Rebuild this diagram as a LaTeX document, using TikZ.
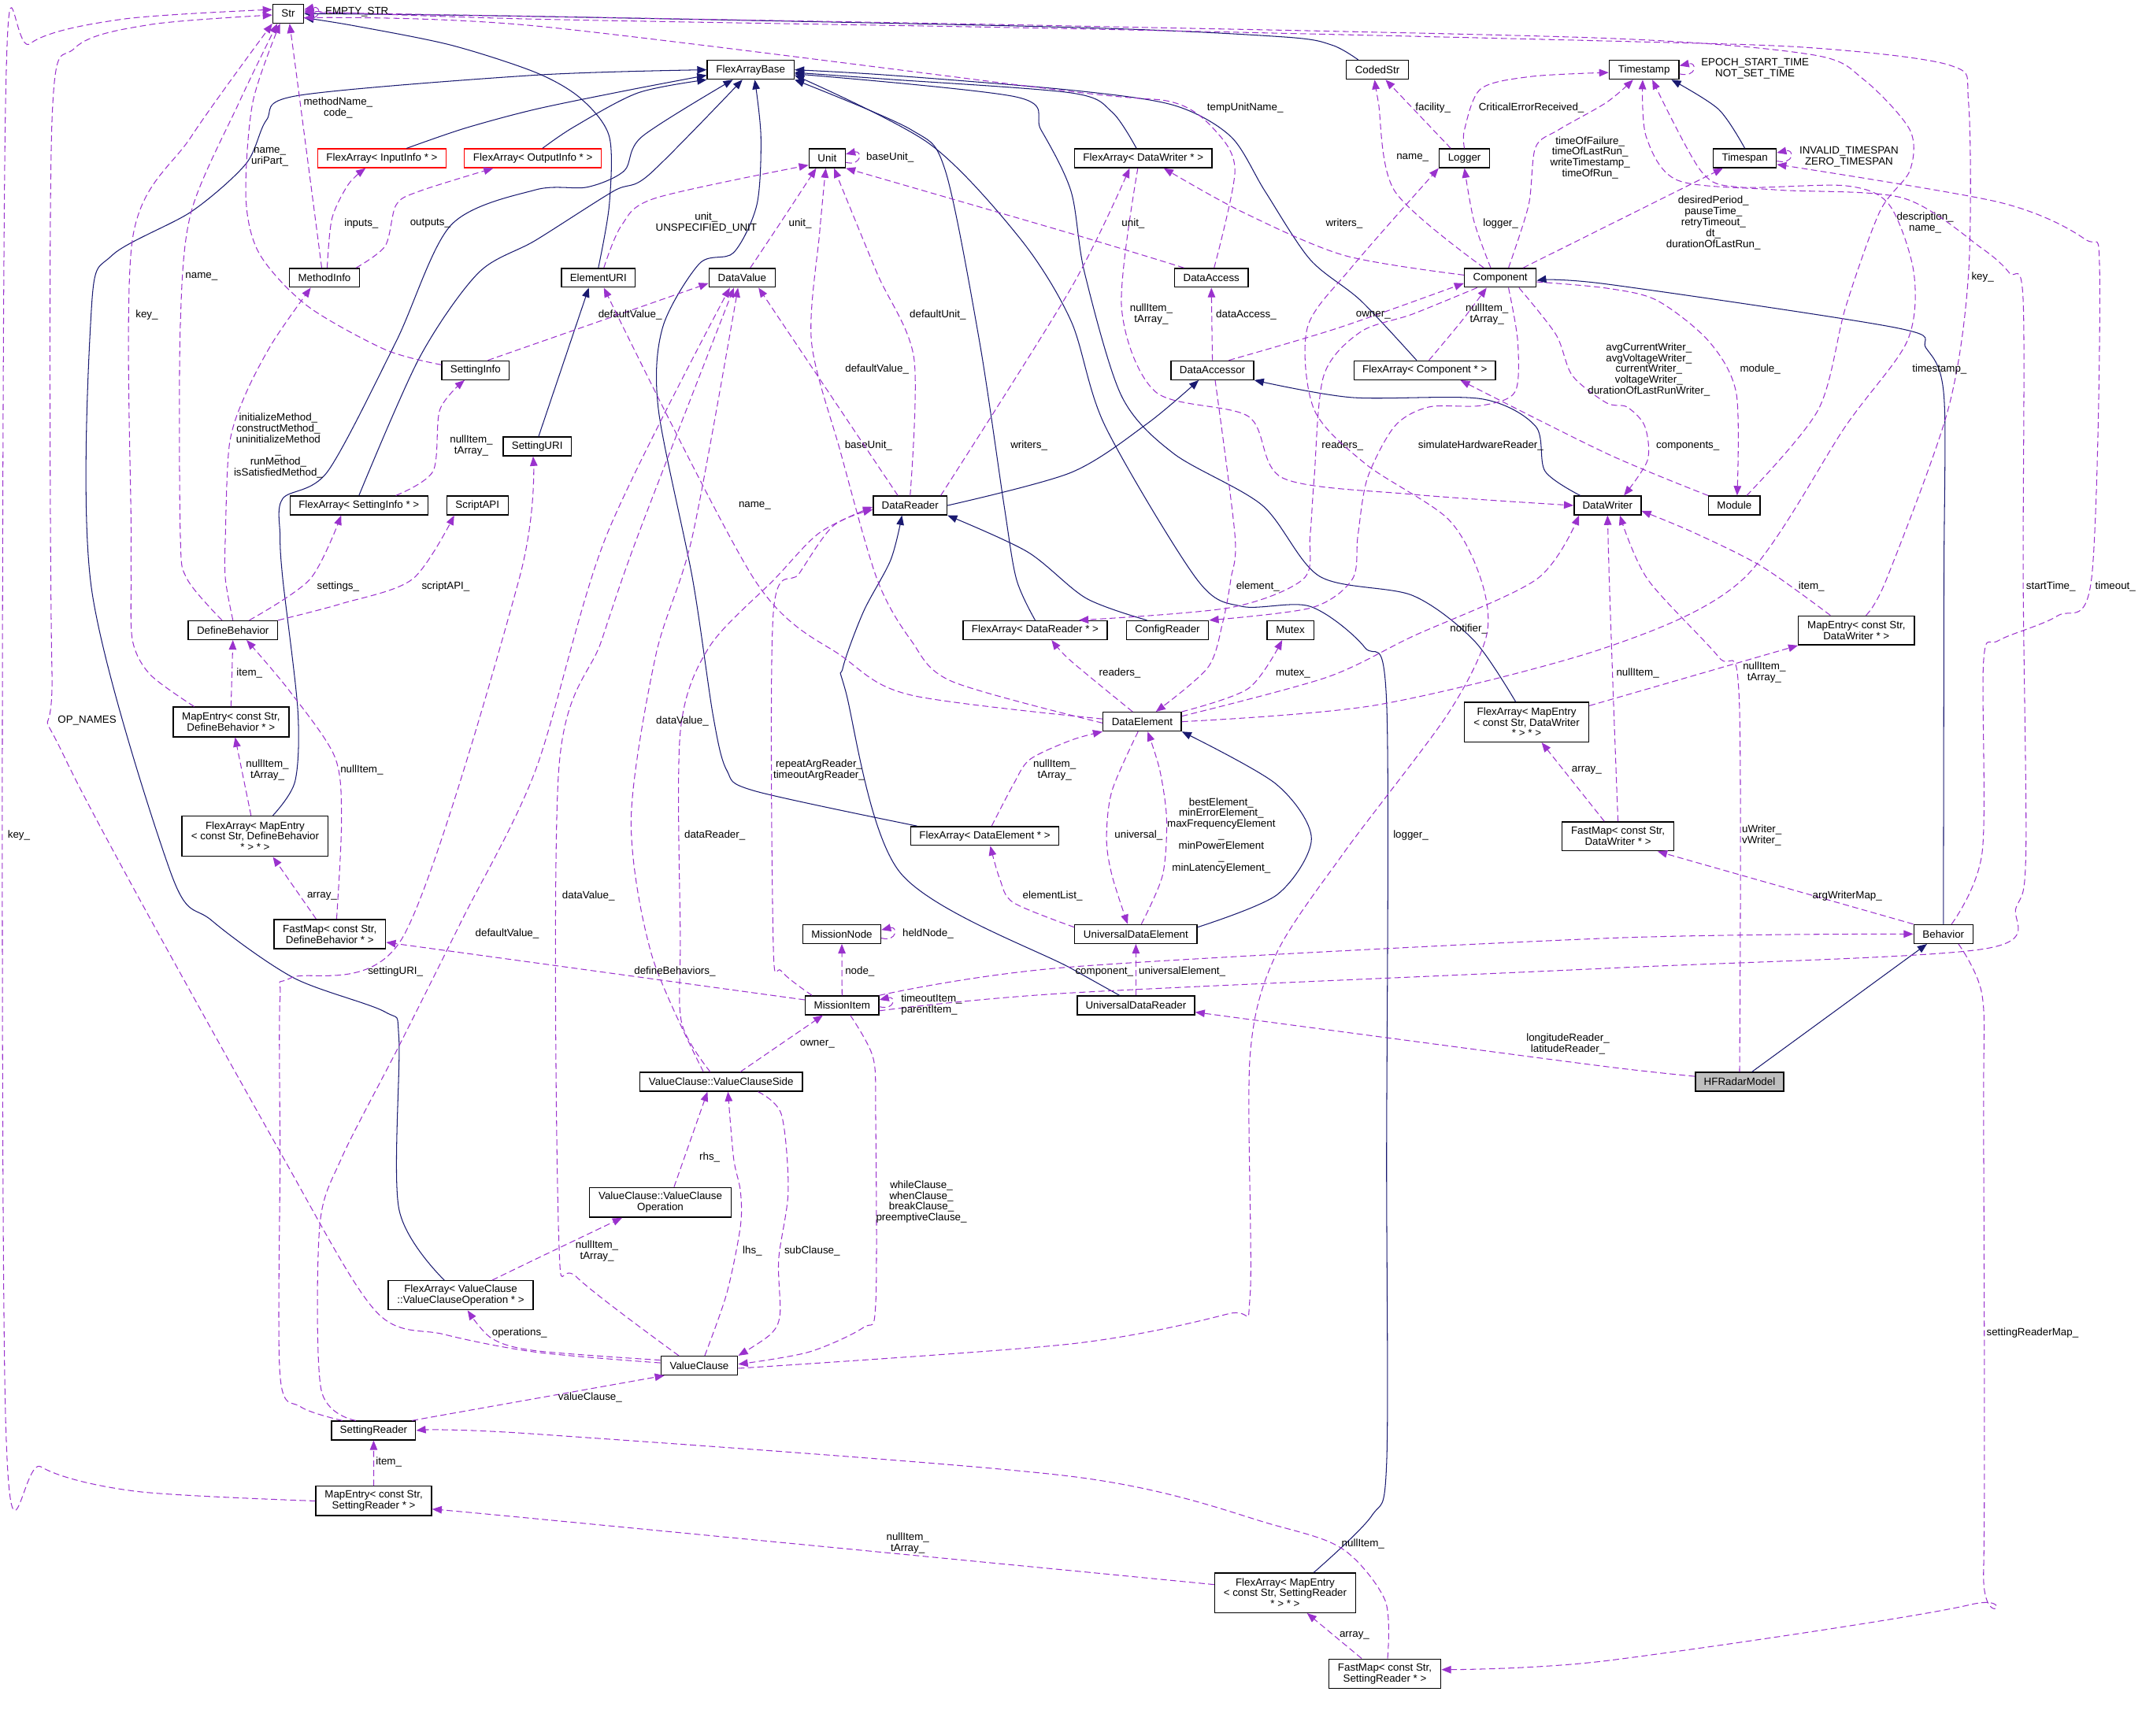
\documentclass[tikz,border=0pt]{standalone}
\usepackage{fontspec}
\setmainfont{Liberation Sans}
\usepackage{tikz}
\usepackage{xcolor}
\usetikzlibrary{arrows.meta}
\definecolor{navy}{HTML}{191970}
\definecolor{orchid}{HTML}{9A32CD}
\definecolor{ink}{HTML}{000000}
\definecolor{boxred}{HTML}{FF0000}
\definecolor{current}{HTML}{BFBFBF}
\newcommand{\dxfont}{\fontsize{7.7}{8}\selectfont}
\tikzset{
  cls/.style={draw=ink, fill=white, line width=0.8pt, align=center, inner xsep=1pt,
              inner ysep=0pt, minimum height=13.75pt, font=\dxfont},
  tmpl/.style={cls, draw=boxred},
  focus/.style={cls, fill=current},
  inherit/.style={draw=navy, line width=0.6pt, -{Triangle[length=7pt,width=5.5pt]}},
  member/.style={draw=orchid, line width=0.6pt, dash pattern=on 4.5pt off 2.5pt,
                 -{Triangle[length=7pt,width=5.5pt]}},
  role/.style={font=\dxfont, align=center, inner sep=0pt}
}
\begin{document}
\begin{tikzpicture}[x=1pt,y=-1pt,font=\dxfont]
    \useasboundingbox (0,0) rectangle (1568,1271);
    % classes, top to bottom
    \node[cls,minimum width=22.5pt] (str) at (211,10) {Str};
    \node[cls,minimum width=63.5pt] (fab) at (549.5,51.1) {FlexArrayBase};
    \node[cls,minimum width=45.5pt] (coded) at (1008.25,51.1) {CodedStr};
    \node[cls,minimum width=51pt] (tstamp) at (1203.5,51.1) {Timestamp};
    \node[tmpl,minimum width=94.25pt] (fain) at (279.6,115.9) {FlexArray< InputInfo * >};
    \node[tmpl,minimum width=100.25pt] (faout) at (390.1,115.9) {FlexArray< OutputInfo * >};
    \node[cls,minimum width=26.5pt] (unit) at (605.5,115.9) {Unit};
    \node[cls,minimum width=100.75pt] (fadw) at (836.9,115.9) {FlexArray< DataWriter * >};
    \node[cls,minimum width=37pt] (logger) at (1072,115.9) {Logger};
    \node[cls,minimum width=46pt] (tspan) at (1277.25,115.9) {Timespan};
    \node[cls,minimum width=51.5pt] (minfo) at (237.5,203.4) {MethodInfo};
    \node[cls,minimum width=54pt] (euri) at (438,203.4) {ElementURI};
    \node[cls,minimum width=48.5pt] (dval) at (543.25,203.4) {DataValue};
    \node[cls,minimum width=54pt] (dacc) at (886.75,203.4) {DataAccess};
    \node[cls,minimum width=52.5pt] (comp) at (1098.25,203.4) {Component};
    \node[cls,minimum width=49.25pt] (sinfo) at (348.1,271.1) {SettingInfo};
    \node[cls,minimum width=60.5pt] (daccr) at (887.5,271.1) {DataAccessor};
    \node[cls,minimum width=103.5pt] (facomp) at (1043,271.1) {FlexArray< Component * >};
    \node[cls,minimum width=50pt] (suri) at (393.25,326.9) {SettingURI};
    \node[cls,minimum width=101pt] (fasinfo) at (262.75,370.1) {FlexArray< SettingInfo * >};
    \node[cls,minimum width=45pt] (sapi) at (349.5,370.1) {ScriptAPI};
    \node[cls,minimum width=54pt] (dreader) at (666.25,370.1) {DataReader};
    \node[cls,minimum width=49pt] (dwriter) at (1176.75,370.1) {DataWriter};
    \node[cls,minimum width=37.75pt] (module) at (1269.6,370.1) {Module};
    \node[cls,minimum width=65.5pt] (defbeh) at (170.5,461.4) {DefineBehavior};
    \node[cls,minimum width=105.5pt] (fadr) at (757.75,461.4) {FlexArray< DataReader * >};
    \node[cls,minimum width=60.25pt] (cfgr) at (854.6,461.4) {ConfigReader};
    \node[cls,minimum width=34.25pt] (mutex) at (944.6,461.4) {Mutex};
    \node[cls,minimum width=84.75pt,minimum height=21.25pt] (medw) at (1358.9,461.6) {MapEntry< const Str,\\ DataWriter * >};
    \node[cls,minimum width=84.75pt,minimum height=21.75pt] (medb) at (169.1,528.6) {MapEntry< const Str,\\ DefineBehavior * >};
    \node[cls,minimum width=57.25pt] (delem) at (836.1,528.4) {DataElement};
    \node[cls,minimum width=91pt,minimum height=29pt] (famedw) at (1117.5,528.75) {FlexArray< MapEntry\\< const Str, DataWriter\\ * > * >};
    \node[cls,minimum width=107pt,minimum height=29.5pt] (famedb) at (186.75,612.25) {FlexArray< MapEntry\\< const Str, DefineBehavior\\ * > * >};
    \node[cls,minimum width=108.25pt] (fadelem) at (720.9,612.1) {FlexArray< DataElement * >};
    \node[cls,minimum width=81.75pt,minimum height=21.25pt] (fmdw) at (1184.4,612.4) {FastMap< const Str,\\ DataWriter * >};
    \node[cls,minimum width=81.75pt,minimum height=21.5pt] (fmdb) at (241.4,684) {FastMap< const Str,\\ DefineBehavior * >};
    \node[cls,minimum width=57pt] (mnode) at (616.25,683.9) {MissionNode};
    \node[cls,minimum width=89.5pt] (udelem) at (831.5,683.9) {UniversalDataElement};
    \node[cls,minimum width=43.25pt] (behav) at (1422.6,683.9) {Behavior};
    \node[cls,minimum width=53.75pt] (mitem) at (616.4,736.1) {MissionItem};
    \node[cls,minimum width=86pt] (udreader) at (831.5,736.1) {UniversalDataReader};
    \node[cls,minimum width=119.25pt] (vcside) at (527.9,792.1) {ValueClause::ValueClauseSide};
    \node[focus,minimum width=64.75pt] (hfradar) at (1273.4,792.1) {HFRadarModel};
    \node[cls,minimum width=103.75pt,minimum height=21.75pt] (vcop) at (483.4,880.4) {ValueClause::ValueClause\\Operation};
    \node[cls,minimum width=106pt,minimum height=21.25pt] (favcop) at (337.25,948.4) {FlexArray< ValueClause\\::ValueClauseOperation * >};
    \node[cls,minimum width=56.25pt] (vclause) at (511.9,999.9) {ValueClause};
    \node[cls,minimum width=61.5pt] (sreader) at (273.5,1047.4) {SettingReader};
    \node[cls,minimum width=84.75pt,minimum height=21.5pt] (mesr) at (273.6,1099) {MapEntry< const Str,\\ SettingReader * >};
    \node[cls,minimum width=103pt,minimum height=29pt] (famesr) at (940.75,1166.25) {FlexArray< MapEntry\\< const Str, SettingReader\\ * > * >};
    \node[cls,minimum width=82pt,minimum height=21.5pt] (fmsr) at (1013.75,1225.5) {FastMap< const Str,\\ SettingReader * >};

    % inheritance
    \draw[inherit] plot[smooth] coordinates {(euri.north) (446,150) (446,100) (425,72) (392,53) (330,33) (260,19) ([yshift=-3pt]str.east)};
    \draw[inherit] plot[smooth] coordinates {([xshift=-14pt]coded.north) (975,33) (939,27) (784,20) (392,12) (str.east)};
    \draw[inherit] plot[smooth] coordinates {([xshift=18pt]fain.north) (340,94) (392,80) (460,66) ([yshift=-4pt]fab.west)};
    \draw[inherit] plot[smooth] coordinates {([xshift=7pt]faout.north) (420,93) (467,68) (fab.south west)};
    \draw[inherit] plot[smooth] coordinates {([xshift=13pt]famedb.north) (216,572) (218,520) (207,424) (205,392) (207,365) (240,345) (290,250) (330,165) (392,139) (430,137) (457,125) (470,100) ([xshift=-13pt]fab.south)};
    \draw[inherit] plot[smooth] coordinates {(fasinfo.north) (307,262) (350,200) (392,176) (449,140) (475,128) ([xshift=-6pt]fab.south)};
    \draw[inherit] plot[smooth] coordinates {([xshift=-12pt]favcop.north) (292,885) (292,760) (282,741) (215,716) (155,674) (125,639) (67,431) (67,225) (82,187) (140,155) (180,120) (195,88) (218,70) (392,55) (fab.west)};
    \draw[inherit] plot[smooth] coordinates {([xshift=5pt]fadelem.north west) (552,579) (532,564) (522,524) (507,424) (482,300) (485,240) (512,193) (537,185) (554,150) (557,100) ([xshift=3pt]fab.south)};
    \draw[inherit] plot[smooth] coordinates {([xshift=-5pt]fadw.north) (814,82) (784,68) (650,58) ([yshift=-2pt]fab.east)};
    \draw[inherit] plot[smooth] coordinates {([xshift=-6pt]facomp.north) (996,220) (959,190) (926,140) (901,100) (859,77) (784,66) (650,55) (fab.east)};
    \draw[inherit] plot[smooth] coordinates {([xshift=-8pt]famedw.north) (1079,469) (1034,436) (966,422) (924,370) (859,332) (821,290) (794,200) (784,140) (762,95) (744,71) ([yshift=-3pt]fab.east)};
    \draw[inherit] plot[smooth] coordinates {([xshift=21pt]famesr.north) (1004,1110) (1015,1072) (1015,850) (1015,514) (999,474) (959,444) (909,444) (876,424) (809,312) (784,235) (747,175) (680,105) ([yshift=-4pt]fab.east)};
    \draw[inherit] plot[smooth] coordinates {(fadr.north) (744,424) (735,370) (717,250) (692,125) (667,95) (fab.south east)};
    \draw[inherit] plot[smooth] coordinates {(tspan.north) (1258,80) ([xshift=20pt]tstamp.south)};
    \draw[inherit] ([xshift=1pt]suri.north) -- ([xshift=-7pt]euri.south);
    \draw[inherit] plot[smooth] coordinates {(dreader.east) (784,346) (840,310) ([xshift=-10pt]daccr.south)};
    \draw[inherit] plot[smooth] coordinates {([xshift=-20pt]dwriter.north) (1131,345) (1124,312) (1084,292) (989,291) (daccr.south east)};
    \draw[inherit] plot[smooth] coordinates {([xshift=-15pt]cfgr.north) (795,438) (752,404) (dreader.south east)};
    \draw[inherit] plot[smooth] coordinates {([xshift=-12pt]udreader.north) (784,709) (659,639) (619,506) (617,489) (632,448) (652,410) ([xshift=-6pt]dreader.south)};
    \draw[inherit] plot[smooth] coordinates {([yshift=5pt]udelem.east) (935,655) (960,614) (934,574) (delem.south east)};
    \draw[inherit] plot[smooth] coordinates {(behav.north) (1423,424) (1423,290) (1410,255) (1388,240) (1176,208) ([yshift=-2pt]comp.east)};
    \draw[inherit] ([xshift=9pt]hfradar.north) -- ([xshift=-12pt]behav.south);

    % members pointing at Str
    \draw[member] ([yshift=-3pt]str.east) .. controls +(13,3) and +(13,-3) .. ([yshift=3pt]str.east);
    \draw[member] plot[smooth] coordinates {([xshift=-2pt]minfo.north) (218,62) ([xshift=1pt]str.south)};
    \draw[member] plot[smooth] coordinates {([yshift=4pt]sinfo.west) (282,256) (225,224) (190,186) (180,145) (185,75) ([xshift=-6pt]str.south)};
    \draw[member] plot[smooth] coordinates {([xshift=-8pt]defbeh.north) (137,424) (132,392) (132,238) (140,155) (175,75) ([xshift=-8pt]str.south)};
    \draw[member] plot[smooth] coordinates {([xshift=-27pt]medb.north) (110,494) (97,469) (96,424) (96,392) (97,175) (140,100) (str.south west)};
    \draw[member] plot[smooth] coordinates {([yshift=2pt]vclause.west) (392,990) (325,977) (275,960) (207,847) (48,556) (38,490) (38,90) (55,35) (110,18) ([yshift=-1pt]str.west)};
    \draw[member] plot[smooth] coordinates {(mesr.west) (100,1092) (30,1074) (4,1035) (4,80) (22,32) (90,14) ([yshift=3pt]str.west)};
    \draw[member] plot[smooth] coordinates {([xshift=2pt]dacc.north) (904,125) (889,95) (859,75) (784,67) (392,19) ([yshift=-3pt]str.east)};
    \draw[member] plot[smooth] coordinates {([xshift=9pt]module.north) (1331,300) (1351,225) (1376,155) (1398,125) (1398,95) (1364,58) (1326,40) (1176,28) (784,19) (392,12) ([yshift=1pt]str.east)};
    \draw[member] plot[smooth] coordinates {([xshift=7pt]medw.north) (1381,424) (1426,300) (1441,200) (1441,75) (1428,48) (1326,35) (1176,30) (784,21) (392,14) ([yshift=2pt]str.east)};
    \node[role,anchor=west] (l01) at (238,9) {EMPTY\_STR};
    \node[role] (l02) at (247.5,79) {methodName\_\\code\_};
    \node[role] (l03) at (197.5,115) {name\_\\uriPart\_};
    \node[role] (l06) at (147.5,202.5) {name\_};
    \node[role] (l07) at (107.5,230.5) {key\_};
    \node[role] (l13) at (63.75,527.75) {OP\_NAMES};
    \node[role,anchor=west] (l16) at (5.5,611.75) {key\_};
    \node[role] (l31) at (911.5,79) {tempUnitName\_};
    \node[role] (l48) at (1409.25,163) {description\_\\name\_};
    \node[role,anchor=west] (l49) at (1443,203) {key\_};

    % MethodInfo, SettingInfo, DefineBehavior
    \draw[member] plot[smooth] coordinates {([xshift=2pt]minfo.north) (243,160) (255,135) ([xshift=-12pt]fain.south)};
    \draw[member] plot[smooth] coordinates {([xshift=-3pt]minfo.north east) (282,180) (290,150) (307,140) ([xshift=-29pt]faout.south)};
    \draw[member] plot[smooth] coordinates {(defbeh.north) (165,424) (165,392) (168,325) (180,288) (200,250) ([xshift=-10pt]minfo.south)};
    \draw[member] plot[smooth] coordinates {([xshift=27pt]fasinfo.north) (317,345) (322,300) ([xshift=-8pt]sinfo.south)};
    \draw[member] ([xshift=9pt]sinfo.north) -- ([yshift=-4pt]dval.west);
    \draw[member] plot[smooth] coordinates {([xshift=12pt]defbeh.north) (227,424) ([xshift=-13pt]fasinfo.south)};
    \draw[member] plot[smooth] coordinates {(defbeh.north east) (250,442) (302,424) ([xshift=-17pt]sapi.south)};
    \draw[member] (medb.north) -- (defbeh.south);
    \draw[member] ([xshift=-3pt]famedb.north) -- ([xshift=3pt]medb.south);
    \draw[member] plot[smooth] coordinates {([xshift=5pt]fmdb.north) (250,600) (245,554) (212,506) ([xshift=10pt]defbeh.south)};
    \draw[member] ([xshift=-10pt]fmdb.north) -- ([xshift=13pt]famedb.south);
    \node[role] (l04) at (264.5,163.5) {inputs\_};
    \node[role] (l05) at (315,163.5) {outputs\_};
    \node[role] (l08) at (203.75,326.25) {initializeMethod\_\\constructMethod\_\\uninitializeMethod\\\_\\runMethod\_\\isSatisfiedMethod\_};
    \node[role] (l09) at (345,326.25) {nullItem\_\\tArray\_};
    \node[role] (l25) at (461.25,230.5) {defaultValue\_};
    \node[role] (l10) at (247.5,429.25) {settings\_};
    \node[role] (l11) at (326.25,429.25) {scriptAPI\_};
    \node[role,anchor=west] (l12) at (173,493) {item\_};
    \node[role] (l14) at (195.75,563.75) {nullItem\_\\tArray\_};
    \node[role,anchor=west] (l15) at (249,563.75) {nullItem\_};
    \node[role] (l17) at (235.75,656.25) {array\_};

    % SettingReader
    \draw[member] plot[smooth] coordinates {([xshift=-13pt]sreader.north) (235,1017) (234,898) (250,848) (292,766) (338,674) (392,564) (444,392) ([xshift=-9pt]dval.south)};
    \draw[member] plot[smooth] coordinates {([xshift=-23pt]sreader.north) (220,1030) (205,1007) (205,848) (205,731) (213,716) (295,686) (380,424) ([xshift=-3pt]suri.south)};
    \draw[member] ([xshift=-3pt]sreader.north east) -- ([xshift=3pt]vclause.south west);
    \draw[member] (mesr.north) -- (sreader.south);
    \draw[member] plot[smooth] coordinates {([yshift=6pt]famesr.west) (784,1150) (392,1112) ([yshift=-6pt]mesr.east)};
    \draw[member] plot[smooth] coordinates {([xshift=2pt]fmsr.north) (1014,1172) (984,1135) (934,1117) (784,1081) (392,1050) (sreader.east)};
    \draw[member] ([xshift=-17pt]fmsr.north) -- ([xshift=16pt]famesr.south);
    \draw[member] plot[smooth] coordinates {([xshift=11pt]behav.south) (1451,729) (1452,816) (1452,1150) (1442,1175) (1176,1216) ([yshift=3pt]fmsr.east)};
    \node[role] (l18) at (371.25,683.75) {defaultValue\_};
    \node[role] (l19) at (289.5,711.5) {settingURI\_};
    \node[role] (l89) at (432,1023.25) {valueClause\_};
    \node[role,anchor=west] (l21) at (275,1070.5) {item\_};
    \node[role] (l90) at (664.5,1130) {nullItem\_\\tArray\_};
    \node[role] (l91) at (997.75,1130.5) {nullItem\_};
    \node[role] (l92) at (991.5,1197.5) {array\_};
    \node[role,anchor=west] (l83) at (1454,976) {settingReaderMap\_};

    % Timestamp, Timespan, Component
    \draw[member] plot[smooth] coordinates {([xshift=6pt]behav.north) (1451,624) (1452,484) (1463,469) (1506,451) (1531,424) (1537,200) (1526,175) (1463,148) ([yshift=-4.5pt]tspan.east)};
    \draw[member] ([yshift=-2pt]tspan.east) .. controls +(13,3) and +(13,-3) .. ([yshift=4pt]tspan.east);
    \draw[member] ([yshift=-3pt]tstamp.east) .. controls +(13,3) and +(13,-3) .. ([yshift=3pt]tstamp.east);
    \draw[member] plot[smooth] coordinates {([yshift=-4pt]mitem.east) (784,727) (1176,709) (1451,695) (1476,664) (1483,624) (1481,424) (1481,220) (1471,200) (1451,182) (1393,145) (1300,139) (1228,132) (1205,100) ([xshift=-1pt]tstamp.south)};
    \draw[member] plot[smooth] coordinates {(delem.east) (1009,516) (1176,474) (1276,424) (1351,312) (1396,250) (1401,200) (1383,150) (1351,136) (1273,137) (1245,125) ([xshift=6pt]tstamp.south)};
    \draw[member] plot[smooth] coordinates {([xshift=6pt]comp.north) (1119,150) (1124,108) (1141,95) (1176,75) ([xshift=-8pt]tstamp.south)};
    \draw[member] plot[smooth] coordinates {(logger.north) (1072,95) (1084,65) (1121,56) ([yshift=-2pt]tstamp.west)};
    \draw[member] ([xshift=-10pt]logger.north) -- ([xshift=6pt]coded.south);
    \draw[member] plot[smooth] coordinates {([xshift=-12pt]comp.north) (1021,140) (1009,75) ([xshift=-2pt]coded.south)};
    \draw[member] plot[smooth] coordinates {([xshift=-7pt]comp.north) (1079,162) (logger.south)};
    \draw[member] plot[smooth] coordinates {([yshift=2pt]comp.west) (984,187) (909,155) ([xshift=15pt]fadw.south)};
    \draw[member] ([xshift=-10pt]comp.north east) -- ([xshift=-16pt]tspan.south);
    \draw[member] plot[smooth] coordinates {([yshift=-3pt]comp.east) (1176,211) (1213,220) (1251,250) (1271,288) ([xshift=2pt]module.north)};
    \draw[member] plot[smooth] coordinates {([xshift=-13pt]comp.south east) (1139,245) (1151,275) (1176,295) (1191,298) (1204,312) (1206,337) ([xshift=12pt]dwriter.north)};
    \draw[member] plot[smooth] coordinates {(module.north west) (1176,332) ([xshift=26pt]facomp.south)};
    \draw[member] plot[smooth] coordinates {([xshift=3pt]facomp.north) (1070,235) ([xshift=-10pt]comp.south)};
    \draw[member] plot[smooth] coordinates {([xshift=12pt]daccr.north) (980,240) ([yshift=-4pt]comp.west)};
    \draw[member] plot[smooth] coordinates {([xshift=-17pt]comp.south) (1034,230) (996,243) (969,275) (962,350) (959,392) (954,424) (900,445) ([xshift=32pt]fadr.north)};
    \draw[member] plot[smooth] coordinates {([xshift=6pt]comp.south) (1111,250) (1109,287) (1084,297) (1046,298) (1021,312) (1001,350) (994,392) (990,424) (960,445) (cfgr.north east)};
    \node[role] (l45) at (1284.75,50.5) {EPOCH\_START\_TIME\\NOT\_SET\_TIME};
    \node[role] (l46) at (1353.5,115) {INVALID\_TIMESPAN\\ZERO\_TIMESPAN};
    \node[role] (l32) at (1049,79) {facility\_};
    \node[role] (l33) at (1121,79) {CriticalErrorReceived\_};
    \node[role] (l34) at (1034,115.5) {name\_};
    \node[role] (l44) at (1164,115.5) {timeOfFailure\_\\timeOfLastRun\_\\writeTimestamp\_\\timeOfRun\_};
    \node[role] (l36) at (984,163.5) {writers\_};
    \node[role] (l37) at (1098.5,163.5) {logger\_};
    \node[role] (l47) at (1254.25,163) {desiredPeriod\_\\pauseTime\_\\retryTimeout\_\\dt\_\\durationOfLastRun\_};
    \node[role] (l40) at (1005.25,230.5) {owner\_};
    \node[role] (l41) at (1088.5,230) {nullItem\_\\tArray\_};
    \node[role] (l50) at (1207,270.6) {avgCurrentWriter\_\\avgVoltageWriter\_\\currentWriter\_\\voltageWriter\_\\durationOfLastRunWriter\_};
    \node[role] (l51) at (1288.5,270.5) {module\_};
    \node[role] (l52) at (1419.75,270.5) {timestamp\_};
    \node[role] (l42) at (982.75,326.25) {readers\_};
    \node[role] (l43) at (1084,326.25) {simulateHardwareReader\_};
    \node[role] (l53) at (1235.5,326.5) {components\_};
    \node[role,anchor=west] (l77) at (1483,429.25) {startTime\_};
    \node[role] (l78) at (1548.5,429.25) {timeout\_};

    % DataAccess, DataWriter, DataElement
    \draw[member] (daccr.north) -- (dacc.south);
    \draw[member] plot[smooth] coordinates {([xshift=-20pt]dacc.north) (784,171) (unit.south east)};
    \draw[member] plot[smooth] coordinates {([xshift=2pt]daccr.south) (904,392) (901,424) (895,456) (884,489) ([xshift=10pt]delem.north)};
    \draw[member] plot[smooth] coordinates {([xshift=-4pt]fadw.south) (821,225) (846,287) (914,305) (939,350) (1034,362) (dwriter.west)};
    \draw[member] plot[smooth] coordinates {([xshift=-5pt]dreader.north east) (784,211) ([xshift=-10pt]fadw.south)};
    \draw[member] plot[smooth] coordinates {([xshift=5pt]fadelem.north) (742,574) (754,556) (784,542) (delem.south west)};
    \draw[member] plot[smooth] coordinates {([xshift=-3pt]delem.south) (814,579) (810,614) (814,641) ([xshift=-6pt]udelem.north)};
    \draw[member] plot[smooth] coordinates {([xshift=4pt]udelem.north) (851,641) (854,600) (849,564) ([xshift=4pt]delem.south)};
    \draw[member] plot[smooth] coordinates {([yshift=5pt]udelem.west) (742,661) (732,644) ([xshift=4pt]fadelem.south)};
    \draw[member] (udreader.north) -- (udelem.south);
    \draw[member] plot[smooth] coordinates {([xshift=-7pt]delem.north) (784,484) ([xshift=12pt]fadr.south)};
    \draw[member] plot[smooth] coordinates {(delem.north east) (914,504) ([xshift=-6pt]mutex.south)};
    \draw[member] plot[smooth] coordinates {([yshift=4pt]delem.east) (971,496) (1034,466) (1125,424) ([xshift=4pt]dwriter.south west)};
    \draw[member] plot[smooth] coordinates {([yshift=2pt]delem.west) (667,509) (617,481) (552,424) ([xshift=4pt]euri.south)};
    \draw[member] plot[smooth] coordinates {([yshift=-1pt]delem.west) (697,499) (667,469) (642,424) (615,330) (594,250) (600,170) ([xshift=-1pt]unit.south)};
    \node[role] (l35) at (829.5,163.5) {unit\_};
    \node[role] (l38) at (842.75,230) {nullItem\_\\tArray\_};
    \node[role,anchor=west] (l39) at (890,230.5) {dataAccess\_};
    \node[role] (l29) at (753.25,326.25) {writers\_};
    \node[role] (l65) at (920.75,429.25) {element\_};
    \node[role] (l66) at (1075.25,460.75) {notifier\_};
    \node[role] (l67) at (819.75,493) {readers\_};
    \node[role] (l68) at (946.5,493) {mutex\_};
    \node[role] (l56) at (772,563.75) {nullItem\_\\tArray\_};
    \node[role] (l69) at (833.5,611.75) {universal\_};
    \node[role] (l70) at (894,611.75) {bestElement\_\\minErrorElement\_\\maxFrequencyElement\\\_\\minPowerElement\\\_\\minLatencyElement\_};
    \node[role] (l59) at (770.5,656.25) {elementList\_};
    \node[role,anchor=west] (l74) at (833.5,711.5) {universalElement\_};
    \node[role] (l30) at (552.5,370) {name\_};
    \node[role] (l28) at (635.75,326.25) {baseUnit\_};

    % Unit, DataValue, DataReader
    \draw[member] ([yshift=-3pt]unit.east) .. controls +(12,3) and +(12,-3) .. ([yshift=3pt]unit.east);
    \draw[member] plot[smooth] coordinates {([xshift=4pt]euri.north) (455,165) (480,145) ([yshift=-5pt]unit.west)};
    \draw[member] plot[smooth] coordinates {([xshift=6pt]dval.north) (572,162) ([xshift=-8pt]unit.south)};
    \draw[member] plot[smooth] coordinates {(dreader.north) (669,262) (642,200) ([xshift=5pt]unit.south)};
    \draw[member] ([xshift=-9pt]dreader.north) -- ([xshift=12pt]dval.south);
    \draw[member] plot[smooth] coordinates {([xshift=-22pt]mitem.north) (572,711) (566,690) (566,450) (585,420) (610,385) ([yshift=-3pt]dreader.west)};
    \draw[member] plot[smooth] coordinates {([xshift=-8pt]vcside.north) (499,749) (498,686) (498,536) (519,474) (567,424) (600,390) ([yshift=-1pt]dreader.west)};
    \draw[member] plot[smooth] coordinates {([xshift=-13pt]vcside.north) (477,699) (462,600) (480,480) (507,392) ([xshift=-3pt]dval.south)};
    \draw[member] plot[smooth] coordinates {([xshift=-15pt]vclause.north) (422,935) (409,905) (409,564) (440,470) (467,392) ([xshift=-6pt]dval.south)};
    \node[role,anchor=west] (l22) at (634,115.5) {baseUnit\_};
    \node[role] (l23) at (517,163) {unit\_\\UNSPECIFIED\_UNIT};
    \node[role] (l24) at (585.75,163.5) {unit\_};
    \node[role] (l26) at (686.5,230.5) {defaultUnit\_};
    \node[role] (l27) at (642,270.5) {defaultValue\_};
    \node[role] (l54) at (499.5,528.25) {dataValue\_};
    \node[role] (l55) at (599.5,563.75) {repeatArgReader\_\\timeoutArgReader\_};
    \node[role] (l57) at (523.25,611.75) {dataReader\_};
    \node[role] (l58) at (430.75,656.25) {dataValue\_};

    % ValueClause and MissionItem
    \draw[member] plot[smooth] coordinates {([yshift=4pt]vclause.west) (392,989) (360,980) ([xshift=5pt]favcop.south)};
    \draw[member] plot[smooth] coordinates {([xshift=23pt]favcop.north) (392,922) ([xshift=-28pt]vcop.south)};
    \draw[member] ([xshift=10pt]vcop.north) -- ([xshift=-10pt]vcside.south);
    \draw[member] plot[smooth] coordinates {([xshift=4pt]vclause.north) (532,947) (542,898) (542,872) (537,848) ([xshift=5pt]vcside.south)};
    \draw[member] plot[smooth] coordinates {([xshift=27pt]vcside.south) (572,816) (577,872) (570,922) (571,962) (564,977) (vclause.north east)};
    \draw[member] plot[smooth] coordinates {([xshift=6pt]mitem.south) (639,774) (641,816) (641,955) (632,972) (592,990) ([yshift=1pt]vclause.east)};
    \draw[member] ([xshift=14pt]vcside.north) -- ([xshift=-14pt]mitem.south);
    \draw[member] plot[smooth] coordinates {([yshift=-2pt]vclause.east) (784,984) (899,962) (915,950) (915,774) (934,699) (984,624) (1059,524) (1088,466) (1084,424) (1060,380) (1000,340) (962,300) (957,240) (990,195) (logger.south west)};
    \draw[member] (mitem.north) -- (mnode.south);
    \draw[member] ([yshift=-3pt]mnode.east) .. controls +(12,3) and +(12,-3) .. ([yshift=3pt]mnode.east);
    \draw[member] ([yshift=-1pt]mitem.east) .. controls +(12,3) and +(12,-3) .. ([yshift=4pt]mitem.east);
    \draw[member] plot[smooth] coordinates {([yshift=4pt]mitem.west) (392,705) ([yshift=-6pt]fmdb.east)};
    \draw[member] plot[smooth] coordinates {(mitem.north east) (784,708) (1176,687) (behav.west)};
    \node[role] (l84) at (519.5,847.5) {rhs\_};
    \node[role] (l85) at (437,916.25) {nullItem\_\\tArray\_};
    \node[role] (l86) at (550.75,916.25) {lhs\_};
    \node[role] (l87) at (594.5,916.25) {subClause\_};
    \node[role] (l88) at (674.5,880) {whileClause\_\\whenClause\_\\breakClause\_\\preemptiveClause\_};
    \node[role,anchor=west] (l20) at (360,976) {operations\_};
    \node[role] (l71) at (1032.75,611.75) {logger\_};
    \node[role,anchor=west] (l60) at (660.5,683.75) {heldNode\_};
    \node[role] (l61) at (494,711.5) {defineBehaviors\_};
    \node[role,anchor=west] (l62) at (618.5,711.5) {node\_};
    \node[role,anchor=west,align=left] (l63) at (659.5,735.75) {timeoutItem\_\\parentItem\_};
    \node[role] (l64) at (598.25,764.5) {owner\_};
    \node[role,anchor=west] (l73) at (787,711.5) {component\_};

    % HFRadarModel and the writer maps
    \draw[member] plot[smooth] coordinates {([yshift=4pt]hfradar.west) (1176,781) (1009,759) ([yshift=-5pt]udreader.east)};
    \draw[member] plot[smooth] coordinates {(hfradar.north) (1273,509) (1258,481) (1206,424) ([xshift=9pt]dwriter.south)};
    \draw[member] plot[smooth] coordinates {(fmdw.north) (1181,511) (1178,424) (dwriter.south)};
    \draw[member] ([xshift=-10pt]fmdw.north) -- ([xshift=11pt]famedw.south);
    \draw[member] (behav.north west) -- ([xshift=29pt]fmdw.south);
    \draw[member] plot[smooth] coordinates {([xshift=-19pt]medw.north) (1290,415) (1240,390) ([yshift=-4pt]dwriter.east)};
    \draw[member] ([yshift=12pt]famedw.east) -- (medw.south west);
    \node[role] (l75) at (1147.75,764.25) {longitudeReader\_\\latitudeReader\_};
    \node[role,anchor=west,align=left] (l81) at (1275,611.75) {uWriter\_\\vWriter\_};
    \node[role,anchor=west] (l79) at (1183,493) {nullItem\_};
    \node[role] (l72) at (1161.5,563.75) {array\_};
    \node[role] (l82) at (1352.25,656.25) {argWriterMap\_};
    \node[role] (l76) at (1326,429.25) {item\_};
    \node[role] (l80) at (1291.5,492.5) {nullItem\_\\tArray\_};
\end{tikzpicture}
\end{document}
